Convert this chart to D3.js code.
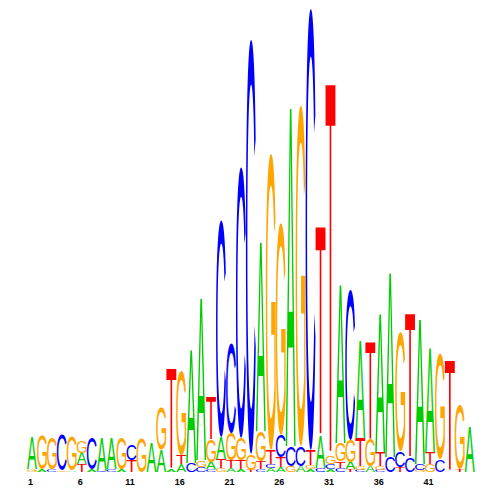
<!DOCTYPE html>
<html><head><meta charset="utf-8">
<script src="https://cdn.jsdelivr.net/npm/d3@7"></script>
<style>body{margin:0;background:#fff} svg{display:block}</style>
</head><body>
<script>
// Sequence logo: information content (bits) of each base at each position
const positions = [1,2,3,4,5,6,7,8,9,10,11,12,13,14,15,16,17,18,19,20,21,22,23,24,25,26,27,28,29,30,31,32,33,34,35,36,37,38,39,40,41,42,43,44,45];
const tickLabels = [1,6,11,16,21,26,31,36,41];
const bases = ["A","C","G","T"];
const baseA = [0.138,0.009,0,0,0.006,0.047,0.013,0.142,0.134,0.013,0,0,0.125,0.095,0.009,0.034,0.487,0.698,0.030,0.095,0.017,0.013,0,0.815,0.017,0.022,1.457,0.026,0.013,0.138,0.013,0.681,0.030,0.422,0.026,0.599,0.793,0,0,0.621,0.448,0,0,0,0.190];
const baseC = [0,0,0.013,0.151,0,0,0.134,0.006,0.013,0,0.065,0,0,0,0,0,0.039,0.022,0.013,0.935,0.388,1.168,1.789,0.013,0.017,0.095,0.086,0.086,1.905,0.017,0.022,0.017,0.647,0.009,0,0.009,0.065,0.069,0.060,0.026,0,0.052,0,0,0];
const baseG = [0.013,0.147,0.138,0.006,0.147,0.052,0,0,0,0.134,0,0.147,0,0.181,0,0.366,0,0.030,0.095,0.017,0.116,0.095,0.069,0.129,1.280,0.914,0.026,1.470,0.017,0,0.034,0.078,0.095,0.017,0.116,0.017,0,0.513,0,0.009,0.034,0.453,0,0.276,0];
const baseT = [0,0,0,0,0,0.034,0,0,0,0,0.052,0,0,0,0.431,0.039,0,0,0.185,0.039,0.034,0.039,0.009,0.034,0.060,0.043,0,0,0.065,0.901,1.603,0.030,0.013,0.121,0.418,0.060,0,0.022,0.621,0,0.052,0,0.474,0.013,0];
const colors = {A:"#00cc00", C:"#0000ff", G:"#ffa500", T:"#ff0000"};

const W = 500, H = 500;
const svg = d3.select("body").append("svg").attr("width", W).attr("height", H);

const x = d3.scaleBand().domain(positions).range([27, 474.75]).padding(0);
const y = d3.scaleLinear().domain([0, 2]).range([472, 8]);

const fontFamily = '"Liberation Sans", Arial, sans-serif';
const ctx = document.createElement("canvas").getContext("2d");
ctx.font = "100px " + fontFamily;
const gm = {};
bases.forEach(L => {
  const t = ctx.measureText(L);
  gm[L] = {l: t.actualBoundingBoxLeft, r: t.actualBoundingBoxRight, a: t.actualBoundingBoxAscent, d: t.actualBoundingBoxDescent};
});

const series = {A: baseA, C: baseC, G: baseG, T: baseT};
const cols = positions.map((p, i) => {
  const letters = bases.map(b => ({base: b, v: series[b][i]})).filter(d => d.v > 0)
    .sort((a, b) => a.v - b.v);
  let acc = 0;
  letters.forEach(d => { d.y0 = acc; acc += d.v; d.y1 = acc; });
  return {pos: p, letters};
});

const g = svg.append("g");
const col = g.selectAll("g.col").data(cols).join("g").attr("class", "col");
col.selectAll("text").data(d => d.letters.map(l => Object.assign({pos: d.pos}, l))).join("text")
  .attr("font-family", fontFamily)
  .attr("font-size", 100)
  .attr("fill", d => colors[d.base])
  .text(d => d.base)
  .attr("transform", d => {
    const m = gm[d.base];
    const x0 = x(d.pos), w = x.bandwidth();
    const yb = y(d.y0), h = y(d.y0) - y(d.y1);
    const sx = w / (m.l + m.r), sy = h / (m.a + m.d);
    return `translate(${x0},${yb}) scale(${sx},${sy}) translate(${m.l},${-m.d})`;
  });

const axis = d3.axisBottom(x).tickValues(tickLabels).tickSize(0).tickPadding(0);
const ax = svg.append("g").attr("transform", "translate(-1.5,479)").call(axis);
ax.select(".domain").remove();
ax.selectAll("text").attr("font-family", fontFamily).attr("font-weight", "bold")
  .attr("font-size", 9).attr("fill", "#000").attr("dy", "0.71em");
</script>
</body></html>
